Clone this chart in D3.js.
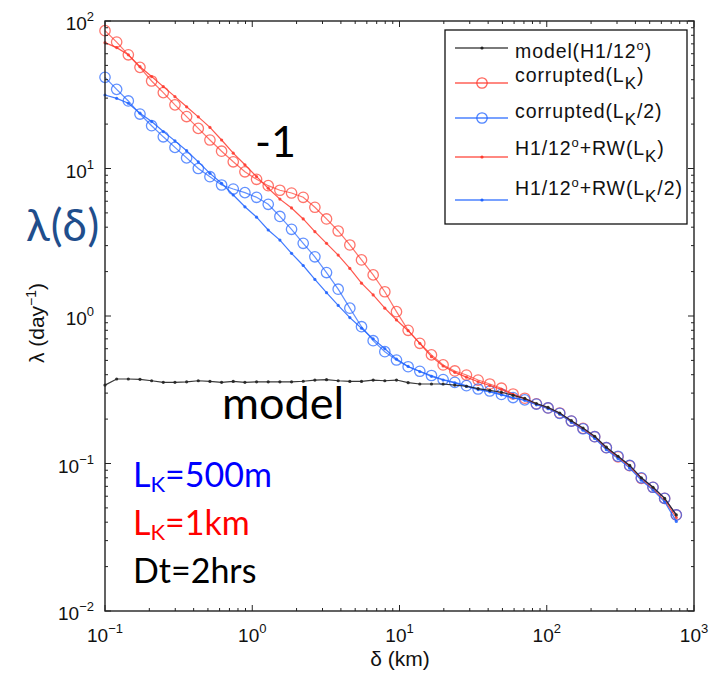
<!DOCTYPE html>
<html>
<head>
<meta charset="utf-8">
<script src="https://cdn.jsdelivr.net/npm/d3@7"></script>
<style>
  html, body { margin: 0; padding: 0; background: #fff; }
  svg { display: block; }
</style>
</head>
<body>
<svg id="chart" width="722" height="674"></svg>
<script>
// Separation distance delta (km), geometric bins (ratio 1.2)
const delta = [0.1, 0.12, 0.144, 0.1728, 0.20736, 0.248832, 0.2985984, 0.35831808, 0.429981696, 0.5159780352,
  0.6191736422, 0.7430083707, 0.8916100448, 1.069932054, 1.283918465, 1.540702157, 1.848842589, 2.218611107, 2.662333328, 3.194799994,
  3.833759992, 4.60051199, 5.520614388, 6.624737266, 7.949684719, 9.539621663, 11.447546, 13.7370552, 16.48446624, 19.78135948,
  23.73763138, 28.48515766, 34.18218919, 41.01862703, 49.22235243, 59.06682292, 70.8801875, 85.056225, 102.06747, 122.480964,
  146.9771568, 176.3725882, 211.6471058, 253.976527, 304.7718324, 365.7261989, 438.8714387, 526.6457264, 631.9748717, 758.3698461];

// Lambda (day^-1) per series
const modelH1 = [0.340, 0.374, 0.374, 0.372, 0.364, 0.355, 0.355, 0.358, 0.364, 0.360,
  0.355, 0.360, 0.355, 0.358, 0.358, 0.358, 0.358, 0.361, 0.368, 0.370,
  0.364, 0.360, 0.360, 0.368, 0.364, 0.368, 0.353, 0.346, 0.346, 0.346,
  0.340, 0.334, 0.322, 0.313, 0.304, 0.290, 0.276, 0.255, 0.240, 0.220,
  0.195, 0.174, 0.153, 0.129, 0.112, 0.097, 0.080, 0.069, 0.058, 0.0448];

const corruptedLK = [86, 72, 59, 48.5, 39.2, 32.7, 27.0, 22.5, 18.7, 15.6,
  13.1, 11.1, 9.5, 8.45, 7.65, 7.12, 6.82, 6.38, 5.46, 4.55,
  3.77, 3.03, 2.40, 1.90, 1.46, 1.07, 0.80, 0.653, 0.545, 0.466,
  0.424, 0.398, 0.368, 0.346, 0.324, 0.296, 0.277, 0.254, 0.238, 0.220,
  0.194, 0.173, 0.152, 0.128, 0.111, 0.0966, 0.0794, 0.069, 0.058, 0.0448];

const corruptedLK2 = [41.5, 34.4, 28.7, 23.4, 19.5, 16.4, 13.9, 11.8, 10.0, 8.8,
  7.73, 7.26, 6.86, 6.38, 5.72, 4.73, 3.87, 3.11, 2.52, 1.97,
  1.52, 1.13, 0.846, 0.68, 0.573, 0.503, 0.453, 0.422, 0.395, 0.371,
  0.355, 0.337, 0.320, 0.310, 0.294, 0.280, 0.270, 0.253, 0.238, 0.219,
  0.194, 0.172, 0.152, 0.128, 0.112, 0.097, 0.080, 0.069, 0.058, 0.0448];

const rwLK = [71.3, 66, 59, 49, 42, 35.9, 30.7, 26.2, 22.4, 19.0,
  15.6, 12.7, 10.6, 8.8, 7.35, 6.2, 5.4, 4.55, 3.73, 3.11,
  2.59, 2.10, 1.67, 1.39, 1.13, 0.94, 0.795, 0.653, 0.53, 0.458,
  0.415, 0.385, 0.358, 0.338, 0.318, 0.294, 0.274, 0.252, 0.236, 0.217,
  0.191, 0.170, 0.150, 0.126, 0.110, 0.095, 0.078, 0.067, 0.056, 0.043];

const rwLK2 = [31.5, 29.9, 27.7, 23.7, 20.8, 17.8, 15.4, 13.2, 11.1, 9.27,
  7.94, 6.61, 5.5, 4.68, 3.83, 3.27, 2.66, 2.2, 1.77, 1.44,
  1.18, 0.975, 0.826, 0.70, 0.60, 0.51, 0.455, 0.42, 0.39, 0.368,
  0.352, 0.333, 0.317, 0.306, 0.292, 0.278, 0.268, 0.250, 0.235, 0.216,
  0.190, 0.168, 0.148, 0.124, 0.108, 0.093, 0.077, 0.066, 0.055, 0.0405];

const xDecades = [-1, 0, 1, 2, 3];
const yDecades = [-2, -1, 0, 1, 2];

const RED = "#ff3a2e";
const BLUE = "#1f63ff";

const svg = d3.select("#chart");
const x = d3.scaleLog().domain([0.1, 1000]).range([105, 694]);
const y = d3.scaleLog().domain([0.01, 100]).range([611, 21]);

const plot = svg.append("g");
const line = d3.line().x(d => x(d[0])).y(d => y(d[1]));
const pts = vals => delta.map((d, i) => [d, vals[i]]);

// Series: draw order red circles, blue circles, red dots, blue dots, model
const series = [
  { vals: corruptedLK, color: RED, marker: "circle", op: 0.7 },
  { vals: corruptedLK2, color: BLUE, marker: "circle", op: 0.7 },
  { vals: rwLK, color: RED, marker: "dot", op: 0.85 },
  { vals: rwLK2, color: BLUE, marker: "dot", op: 0.85 },
  { vals: modelH1, color: "#222", marker: "dot", op: 0.9 }
];

series.forEach(s => {
  const data = pts(s.vals);
  plot.append("path").datum(data)
    .attr("d", line).attr("fill", "none")
    .attr("stroke", s.color).attr("stroke-width", 1.2).attr("stroke-opacity", s.op);
  if (s.marker === "circle") {
    plot.selectAll(null).data(data).enter().append("circle")
      .attr("cx", d => x(d[0])).attr("cy", d => y(d[1])).attr("r", 5.2)
      .attr("fill", "none").attr("stroke", s.color).attr("stroke-width", 1.3).attr("stroke-opacity", s.op);
  } else {
    plot.selectAll(null).data(data).enter().append("circle")
      .attr("cx", d => x(d[0])).attr("cy", d => y(d[1])).attr("r", 1.6)
      .attr("fill", s.color).attr("fill-opacity", s.op);
  }
});

// Axes frame with inward ticks on all four sides
const frame = svg.append("g").attr("stroke", "#222").attr("stroke-width", 1.4).attr("fill", "none");
frame.append("rect").attr("x", 105).attr("y", 21).attr("width", 694 - 105).attr("height", 611 - 21);

function minorTicks(decades) {
  const t = [];
  decades.slice(0, -1).forEach(dk => {
    for (let k = 2; k <= 9; k++) t.push(k * Math.pow(10, dk));
  });
  return t;
}
const tk = svg.append("g").attr("stroke", "#222").attr("stroke-width", 1);
xDecades.forEach(dk => {
  const v = Math.pow(10, dk), px = x(v);
  tk.append("line").attr("x1", px).attr("x2", px).attr("y1", 611).attr("y2", 605);
  tk.append("line").attr("x1", px).attr("x2", px).attr("y1", 21).attr("y2", 27);
});
minorTicks(xDecades).forEach(v => {
  const px = x(v);
  tk.append("line").attr("x1", px).attr("x2", px).attr("y1", 611).attr("y2", 608);
  tk.append("line").attr("x1", px).attr("x2", px).attr("y1", 21).attr("y2", 24);
});
yDecades.forEach(dk => {
  const v = Math.pow(10, dk), py = y(v);
  tk.append("line").attr("x1", 105).attr("x2", 111).attr("y1", py).attr("y2", py);
  tk.append("line").attr("x1", 694).attr("x2", 688).attr("y1", py).attr("y2", py);
});
minorTicks(yDecades).forEach(v => {
  const py = y(v);
  tk.append("line").attr("x1", 105).attr("x2", 108).attr("y1", py).attr("y2", py);
  tk.append("line").attr("x1", 694).attr("x2", 691).attr("y1", py).attr("y2", py);
});

// Tick labels as 10^n
const tickFont = "'Liberation Sans', Arial, Helvetica, sans-serif";
function powLabel(sel, dk) {
  sel.append("tspan").text("10");
  sel.append("tspan").attr("dy", -9).attr("font-size", 13).text(dk < 0 ? "\u2212" + Math.abs(dk) : String(dk));
}
xDecades.forEach(dk => {
  const t = svg.append("text").attr("x", x(Math.pow(10, dk))).attr("y", 642)
    .attr("text-anchor", "middle").attr("font-family", tickFont).attr("font-size", 19).attr("fill", "#111");
  powLabel(t, dk);
});
yDecades.forEach(dk => {
  const t = svg.append("text").attr("x", 94).attr("y", y(Math.pow(10, dk)) + 9)
    .attr("text-anchor", "end").attr("font-family", tickFont).attr("font-size", 19).attr("fill", "#111");
  powLabel(t, dk);
});

// Axis titles
svg.append("text").attr("x", 400).attr("y", 666).attr("text-anchor", "middle")
  .attr("font-family", tickFont).attr("font-size", 21).attr("fill", "#111").text("\u03b4 (km)");
const yl = svg.append("text").attr("transform", "translate(44,323) rotate(-90)")
  .attr("text-anchor", "middle").attr("font-family", tickFont).attr("font-size", 21).attr("fill", "#111");
yl.append("tspan").text("\u03bb (day");
yl.append("tspan").attr("dy", -8).attr("font-size", 14).text("\u22121");
yl.append("tspan").attr("dy", 8).text(")");

// Legend
const legend = svg.append("g");
legend.append("rect").attr("x", 445).attr("y", 30).attr("width", 242).attr("height", 194)
  .attr("fill", "#fff").attr("stroke", "#111").attr("stroke-width", 1.3);
const legendItems = [
  { color: "#222", marker: "dot", ly: 48, ty: 58, parts: [["model(H1/12"], ["o", "sup"], [")"]] },
  { color: RED, marker: "circle", ly: 83, ty: 82, parts: [["corrupted(L"], ["K", "sub"], [")"]] },
  { color: BLUE, marker: "circle", ly: 118, ty: 118, parts: [["corrupted(L"], ["K", "sub"], ["/2)"]] },
  { color: RED, marker: "dot", ly: 157, ty: 155, parts: [["H1/12"], ["o", "sup"], ["+RW(L"], ["K", "sub"], [")"]] },
  { color: BLUE, marker: "dot", ly: 200, ty: 195, parts: [["H1/12"], ["o", "sup"], ["+RW(L"], ["K", "sub"], ["/2)"]] }
];
legendItems.forEach(it => {
  legend.append("line").attr("x1", 455).attr("x2", 508).attr("y1", it.ly).attr("y2", it.ly)
    .attr("stroke", it.color).attr("stroke-width", 1.3).attr("stroke-opacity", 0.8);
  if (it.marker === "circle") {
    legend.append("circle").attr("cx", 482).attr("cy", it.ly).attr("r", 5.2)
      .attr("fill", "none").attr("stroke", it.color).attr("stroke-width", 1.3).attr("stroke-opacity", 0.8);
  } else {
    legend.append("circle").attr("cx", 482).attr("cy", it.ly).attr("r", 1.6).attr("fill", it.color);
  }
  const t = legend.append("text").attr("x", 515).attr("y", it.ty)
    .attr("font-family", tickFont).attr("font-size", 19.5).attr("letter-spacing", 0.9).attr("fill", "#111");
  let shift = 0;
  it.parts.forEach(p => {
    const ts = t.append("tspan").text(p[0]);
    let target = 0;
    if (p[1] === "sup") { target = -8; ts.attr("font-size", 13); }
    if (p[1] === "sub") { target = 7; ts.attr("font-size", 17); }
    ts.attr("dy", target - shift);
    shift = target;
  });
});

// Annotations
const annFont = "Lato, 'Open Sans', sans-serif";
svg.append("text").attr("x", 255).attr("y", 157).attr("font-family", annFont)
  .attr("font-size", 43).attr("fill", "#000").text("-1");
svg.append("text").attr("x", 222).attr("y", 419).attr("font-family", annFont)
  .attr("font-size", 45).attr("fill", "#000").text("model");
svg.append("text").attr("x", 26).attr("y", 241).attr("font-family", annFont)
  .attr("font-size", 44).attr("letter-spacing", 1).attr("fill", "#1f4e8c").text("\u03bb(\u03b4)");

const notes = [
  { y: 487, color: "#0000ff", main: "L", sub: "K", rest: "=500m" },
  { y: 535, color: "#ff0000", main: "L", sub: "K", rest: "=1km" },
  { y: 583, color: "#000000", main: "Dt=2hrs", sub: null, rest: null }
];
notes.forEach(n => {
  const t = svg.append("text").attr("x", 133).attr("y", n.y).attr("font-family", annFont)
    .attr("font-size", 34).attr("fill", n.color);
  t.append("tspan").text(n.main);
  if (n.sub) {
    t.append("tspan").attr("dy", 5).attr("font-size", 22).text(n.sub);
    t.append("tspan").attr("dy", -5).text(n.rest);
  }
});
</script>
</body>
</html>
